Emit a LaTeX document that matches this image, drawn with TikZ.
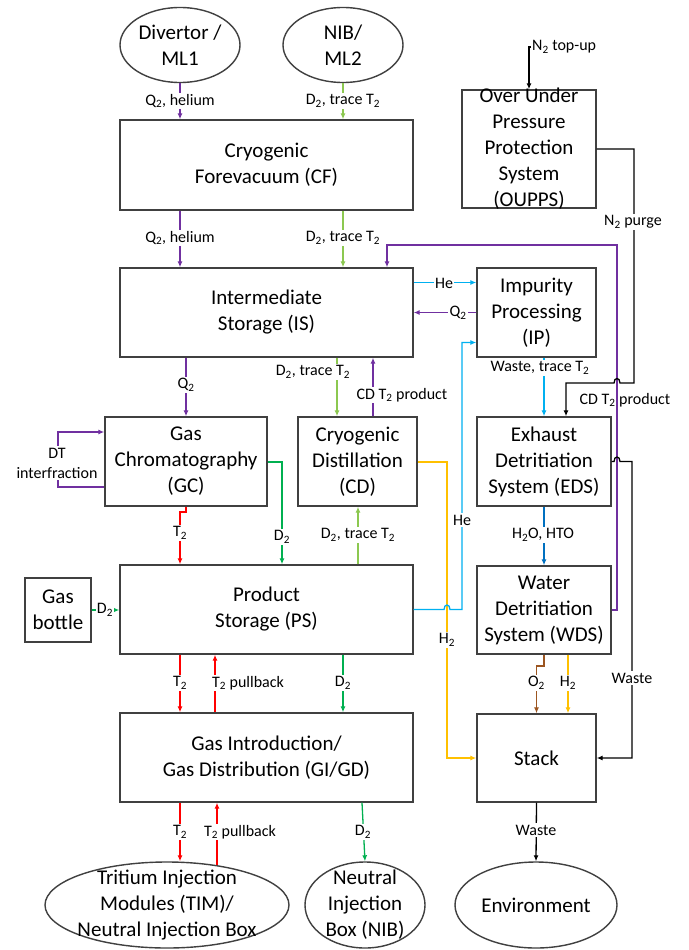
\documentclass[tikz,border=0pt]{standalone}
\usepackage{fontspec}
\setmainfont{Carlito}
\usetikzlibrary{arrows.meta,shapes.geometric,calc}
\definecolor{cpur}{HTML}{7030A0}
\definecolor{cgrl}{HTML}{8CC850}
\definecolor{cgrn}{HTML}{00B050}
\definecolor{cred}{HTML}{FF0000}
\definecolor{ccya}{HTML}{00B0F0}
\definecolor{cyel}{HTML}{FFC000}
\definecolor{cblu}{HTML}{0070C0}
\definecolor{cbrn}{HTML}{9C5520}
\definecolor{boxc}{HTML}{404040}
\newcommand\bigf{\fontsize{21}{26}\selectfont}
\newcommand\labf{\fontsize{16}{20}\selectfont}
\newcommand\sub[1]{\textsubscript{#1}}
\begin{document}
\begin{tikzpicture}[x=1pt,y=-1pt,
  blk/.style={draw=boxc, line width=1.4pt, align=center, inner sep=0pt, font=\bigf},
  ell/.style={ellipse, draw=boxc, line width=1.4pt, inner sep=0pt},
  etxt/.style={align=center, font=\bigf, inner sep=0pt},
  lab/.style={fill=white, inner sep=1.5pt, font=\labf, align=center},
  labnf/.style={inner sep=1pt, font=\labf},
  fl/.style={line width=1.3pt, -{Latex[length=6pt,width=5pt]}},
  pl/.style={line width=1.3pt}]
\useasboundingbox (0,0) rectangle (688,950);
\fill[white] (0,0) rectangle (688,950);
% column coordinates
\coordinate (c180) at (180,0);
\coordinate (c215) at (215,0);
\coordinate (c217) at (217,0);
\coordinate (c282) at (282,0);
\coordinate (c337) at (337,0);
\coordinate (c343) at (343,0);
\coordinate (c358) at (358,0);
\coordinate (c362) at (362,0);
\coordinate (c373) at (373,0);
\coordinate (c387) at (387,0);
\coordinate (c566) at (566,0);
\coordinate (c568) at (568,0);
\coordinate (r462) at (0,462);
% nodes
\node[ell, minimum width=120pt, minimum height=75pt] (DIV) at (180,45) {};
\node[etxt] at (DIV) {Divertor /\\ML1};
\node[ell, minimum width=120pt, minimum height=75pt] (NIBM) at (343,45) {};
\node[etxt] at (NIBM) {NIB/\\ML2};
\node[blk, minimum width=293pt, minimum height=90pt] (CF) at (266.5,165) {Cryogenic\\Forevacuum (CF)};
\node[blk, minimum width=293pt, minimum height=89pt] (IS) at (266.5,312.5) {Intermediate\\Storage (IS)};
\node[blk, minimum width=119pt, minimum height=89pt] (IP) at (536.5,312.5) {Impurity\\Processing\\(IP)};
\node[draw=boxc, line width=1.4pt, minimum width=134pt, minimum height=118pt, inner sep=0pt] (OUPPS) at (529,149) {};
\node[etxt] at (OUPPS) {Over Under\\Pressure\\Protection\\System\\(OUPPS)};
\node[blk, minimum width=162pt, minimum height=89pt] (GC) at (186,461.5) {Gas\\Chromatography\\(GC)};
\node[blk, minimum width=119pt, minimum height=89pt] (CD) at (357.5,461.5) {Cryogenic\\Distillation\\(CD)};
\node[blk, minimum width=134pt, minimum height=89pt] (EDS) at (544,461.5) {Exhaust\\Detritiation\\System (EDS)};
\node[blk, minimum width=293pt, minimum height=89pt] (PS) at (266.5,609.5) {Product\\Storage (PS)};
\node[blk, minimum width=66pt, minimum height=64pt] (GB) at (58,610) {Gas\\bottle};
\node[blk, minimum width=134pt, minimum height=88pt] (WDS) at (544,610) {Water\\Detritiation\\System (WDS)};
\node[blk, minimum width=293pt, minimum height=89pt] (GI) at (266.5,757.5) {Gas Introduction/\\Gas Distribution (GI/GD)};
\node[blk, minimum width=119pt, minimum height=88pt] (ST) at (536.5,758) {Stack};
\node[ell, minimum width=244pt, minimum height=86pt] (TIM) at (167,905) {};
\node[etxt] at (TIM) {Tritium Injection\\Modules (TIM)/\\Neutral Injection Box};
\node[ell, minimum width=120pt, minimum height=86pt] (NIB) at (365,905) {};
\node[etxt] at (NIB) {Neutral\\Injection\\Box (NIB)};
\node[ell, minimum width=162pt, minimum height=86pt] (ENV) at (536,905) {};
\node[etxt] at (ENV) {Environment};
\node[labnf, anchor=west] (TOP) at (531,47) {N\sub{2} top-up};
% connectors
\draw[fl,cpur] (DIV.south) -- (CF.north -| DIV.south);
\draw[fl,cgrl] (NIBM.south) -- (CF.north -| NIBM.south);
\draw[fl,cpur] (CF.south -| DIV.south) -- (IS.north -| DIV.south);
\draw[fl,cgrl] (CF.south -| NIBM.south) -- (IS.north -| NIBM.south);
\draw[fl,cpur] (WDS.east) -- (617,610) -- (617,245) -- (387,245) -- (IS.north -| c387);
\draw[fl,ccya] ($(IS.east)+(0,-30)$) -- ($(IP.west)+(0,-30)$);
\draw[fl,cpur] (IP.west) -- (IS.east);
\draw[fl,cpur] (IS.south -| GC.north) -- (GC.north);
\draw[fl,cgrl] (IS.south -| c337) -- (CD.north -| c337);
\draw[fl,cpur] (CD.north -| c373) -- (IS.south -| c373);
\draw[fl,ccya] (IP.south -| EDS.north) -- (EDS.north);
\draw[fl] (TOP.west) -| (OUPPS.north);
\draw[fl] (OUPPS.east) -- (634,149) -- (634,383) -- (620,383) .. controls (620,377) and (614,377) .. (614,383) -- (566,383) -- (EDS.north -| c566);
\draw[fl,cblu] (EDS.south) -- (WDS.north);
\draw[fl] (EDS.east) -- (614,461.5) .. controls (614,455.5) and (620,455.5) .. (620,461.5) -- (632,461.5) -- (632,758) -- (ST.east);
\draw[fl,cbrn] (WDS.south) -- (544,666) -- (536.5,666) -- (ST.north);
\draw[fl,cyel] (WDS.south -| c568) -- (ST.north -| c568);
\draw[fl] (ST.south) -- (ENV.north);
\draw[fl,cyel] (CD.east |- r462) -- (447,462) -- (447,758) -- (ST.west);
\draw[fl,ccya] (PS.east) -- (444,609.5) .. controls (444,603.5) and (450,603.5) .. (450,609.5) -- (462,609.5) -- (462,342.5) -- ($(IP.west)+(0,30)$);
\draw[fl,cpur] ($(GC.west)+(0,25.5)$) -- (58,487) -- (58,432) -- ($(GC.west)+(0,-29.5)$);
\draw[fl,cred] (GC.south) -- (186,512) -- (180,512) -- (PS.north -| c180);
\draw[fl,cgrn] (GC.east |- r462) -- (282,462) -- (PS.north -| c282);
\draw[fl,cgrl] (PS.north -| c358) -- (CD.south -| c358);
\draw[fl,cgrn] (GB.east) -- (PS.west |- GB.east);
\draw[fl,cred] (PS.south -| c180) -- (GI.north -| c180);
\draw[fl,cred] (GI.north -| c215) -- (PS.south -| c215);
\draw[fl,cgrn] (PS.south -| c343) -- (GI.north -| c343);
\draw[fl,cred] (GI.south -| c180) -- (c180 |- TIM.north);
\draw[fl,cred] ($(c217 |- TIM.north)+(0,4)$) -- (GI.south -| c217);
\draw[fl,cgrn] (GI.south -| c362) -- (NIB.north);
% labels
\node[lab] at (180,101) {Q\sub{2}, helium};
\node[lab] at (343,101) {D\sub{2}, trace T\sub{2}};
\node[lab] at (180,238) {Q\sub{2}, helium};
\node[lab] at (343,238) {D\sub{2}, trace T\sub{2}};
\node[lab] at (444,283) {He};
\node[lab] at (458,313) {Q\sub{2}};
\node[lab] at (186,385) {Q\sub{2}};
\node[lab] at (313,372) {D\sub{2}, trace T\sub{2}};
\node[lab] at (402,395) {CD T\sub{2} product};
\node[lab] at (540,368) {Waste, trace T\sub{2}};
\node[lab] at (633,222) {N\sub{2} purge};
\node[labnf] at (625,400) {CD T\sub{2} product};
\node[lab] at (543,535) {H\sub{2}O, HTO};
\node[lab] at (632,678) {Waste};
\node[lab] at (536.5,683) {O\sub{2}};
\node[lab] at (568,683) {H\sub{2}};
\node[lab] at (536,830) {Waste};
\node[lab] at (447,640) {H\sub{2}};
\node[lab] at (462,520) {He};
\node[lab] at (57,463) {DT\\interfraction};
\node[lab] at (180,533) {T\sub{2}};
\node[lab] at (282,537) {D\sub{2}};
\node[lab] at (358,535) {D\sub{2}, trace T\sub{2}};
\node[lab, inner sep=0.5pt] at (105,610) {D\sub{2}};
\node[lab] at (180,683) {T\sub{2}};
\node[lab] at (248,683) {T\sub{2} pullback};
\node[lab] at (343,683) {D\sub{2}};
\node[lab] at (180,832) {T\sub{2}};
\node[lab] at (240,832) {T\sub{2} pullback};
\node[lab] at (363,832) {D\sub{2}};
\end{tikzpicture}
\end{document}
